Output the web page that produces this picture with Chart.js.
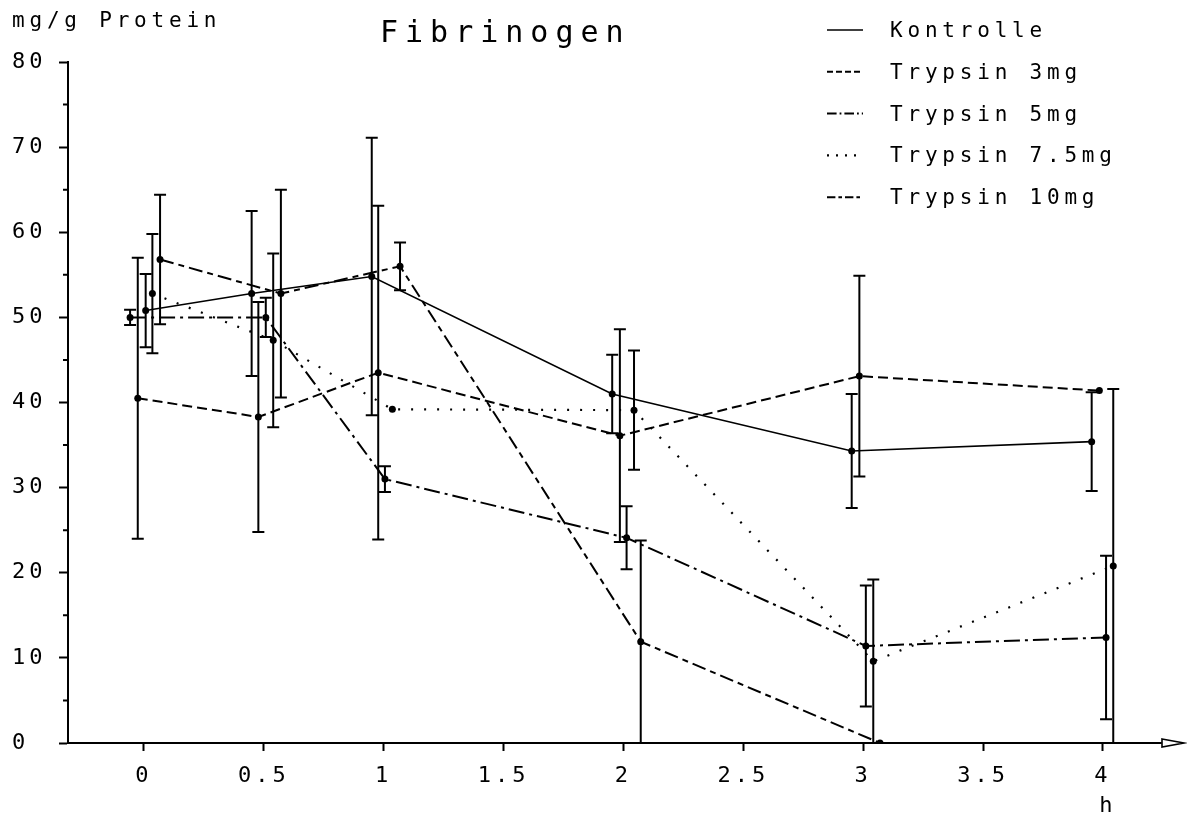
<!DOCTYPE html>
<html>
<head>
<meta charset="utf-8">
<title>Fibrinogen</title>
<script src="https://cdn.jsdelivr.net/npm/chart.js@4.4.1/dist/chart.umd.min.js"></script>
<style>
  html, body { margin: 0; padding: 0; background: #fff; }
  canvas { display: block; }
</style>
</head>
<body>
<canvas id="fibChart" width="1187" height="818"></canvas>
<script>
const hourTicks = [0, 0.5, 1, 1.5, 2, 2.5, 3, 3.5, 4];
const valueTicks = [0, 10, 20, 30, 40, 50, 60, 70, 80];
const minorTicks = [5, 15, 25, 35, 45, 55, 65, 75];
const seriesNames = ["Kontrolle", "Trypsin 3mg", "Trypsin 5mg", "Trypsin 7.5mg", "Trypsin 10mg"];

// sampling times (h) are nudged per group so the bars stay apart
const kontrolleX = [0.007, 0.449, 0.950, 1.953, 2.952, 3.953];
const kontrolleY = [50.8, 52.8, 54.8, 41.0, 34.3, 35.4];
const kontrolleSd = [4.3, 9.7, 16.3, 4.6, 6.7, 5.8];

const tryp3X = [-0.026, 0.477, 0.977, 1.985, 2.984, 3.985];
const tryp3Y = [40.5, 38.3, 43.5, 36.1, 43.1, 41.4];
const tryp3Sd = [16.5, 13.5, 19.6, 12.5, 11.8, 0];

const tryp5X = [-0.058, 0.508, 1.005, 2.013, 3.011, 4.013];
const tryp5Y = [50.0, 50.0, 31.0, 24.1, 11.4, 12.4];
const tryp5Sd = [0.9, 2.3, 1.5, 3.7, 7.1, 9.6];

const tryp75X = [0.035, 0.539, 1.036, 2.044, 3.042, 4.043];
const tryp75Y = [52.8, 47.3, 39.2, 39.1, 9.6, 20.8];
const tryp75Sd = [7.0, 10.2, 0, 7.0, 9.6, 20.8];

const tryp10X = [0.067, 0.571, 1.068, 2.072, 3.070];
const tryp10Y = [56.8, 52.8, 56.0, 11.9, 0];
const tryp10Sd = [7.6, 12.2, 2.8, 11.9, 0];

const FONT = "'DejaVu Sans Mono', 'Liberation Mono', monospace";

const lineStyles = [
  { dash: [], width: 1.6 },
  { dash: [10, 5], width: 2 },
  { dash: [16, 5, 3, 5], width: 2 },
  { dash: [2, 11], width: 2.2 },
  { dash: [14, 5, 6, 5], width: 2 }
];

function series(i, xs, ys, sd) {
  return {
    label: seriesNames[i],
    data: xs.map((x, k) => ({ x: x, y: ys[k] })),
    sd: sd,
    showLine: true,
    borderColor: "#000",
    borderWidth: lineStyles[i].width,
    borderDash: lineStyles[i].dash,
    pointRadius: 3.5,
    pointBackgroundColor: "#000",
    pointBorderWidth: 0,
    tension: 0
  };
}

function spacedText(ctx, text, x, y, size, spacing, align) {
  ctx.save();
  ctx.font = size + "px " + FONT;
  ctx.letterSpacing = spacing + "px";
  ctx.fillStyle = "#000";
  ctx.textAlign = align || "left";
  ctx.textBaseline = "alphabetic";
  ctx.fillText(text, x, y);
  ctx.restore();
}

// wide plotter-like lettering for the axis labels too
const letterSpacing = {
  id: "letterSpacing",
  beforeDraw(chart) {
    chart.ctx.letterSpacing = "4px";
  }
};

const errorBars = {
  id: "errorBars",
  afterDatasetsDraw(chart) {
    const { ctx } = chart;
    const xs = chart.scales.x;
    const ys = chart.scales.y;
    ctx.save();
    ctx.strokeStyle = "#000";
    ctx.lineWidth = 2;
    ctx.setLineDash([]);
    chart.data.datasets.forEach(ds => {
      ds.data.forEach((p, k) => {
        const sd = ds.sd[k];
        if (!sd) return;
        const px = xs.getPixelForValue(p.x);
        const top = ys.getPixelForValue(p.y + sd);
        const bot = ys.getPixelForValue(Math.max(p.y - sd, 0));
        ctx.beginPath();
        ctx.moveTo(px, top);
        ctx.lineTo(px, bot);
        ctx.moveTo(px - 6, top);
        ctx.lineTo(px + 6, top);
        if (p.y - sd > 0) {
          ctx.moveTo(px - 6, bot);
          ctx.lineTo(px + 6, bot);
        }
        ctx.stroke();
      });
    });
    ctx.restore();
  }
};

const axisExtras = {
  id: "axisExtras",
  afterDraw(chart) {
    const { ctx, chartArea } = chart;
    const ys = chart.scales.y;
    ctx.save();
    ctx.letterSpacing = "0px";
    ctx.strokeStyle = "#000";
    ctx.lineWidth = 2;
    ctx.setLineDash([]);

    // short ticks between the labelled ones
    ctx.beginPath();
    minorTicks.forEach(v => {
      const py = ys.getPixelForValue(v);
      ctx.moveTo(chartArea.left - 5, py);
      ctx.lineTo(chartArea.left, py);
    });
    ctx.stroke();

    // open arrow at the end of the time axis
    const ay = chartArea.bottom;
    ctx.lineWidth = 1.6;
    ctx.beginPath();
    ctx.moveTo(chartArea.right, ay);
    ctx.lineTo(chartArea.right + 2, ay);
    ctx.moveTo(chartArea.right + 2, ay - 4);
    ctx.lineTo(chartArea.right + 24, ay);
    ctx.lineTo(chartArea.right + 2, ay + 4);
    ctx.closePath();
    ctx.stroke();
    ctx.restore();

    spacedText(ctx, "Fibrinogen", 380, 42, 30, 7);
    spacedText(ctx, "mg/g Protein", 12, 27, 21, 4.8);
    spacedText(ctx, "h", chart.scales.x.getPixelForValue(4) + 3, 812, 22, 0, "center");

    // legend with line samples
    chart.data.datasets.forEach((ds, i) => {
      const base = 37 + 41.8 * i;
      const mid = base - 7;
      ctx.save();
      ctx.strokeStyle = "#000";
      ctx.lineWidth = lineStyles[i].width;
      ctx.setLineDash(i === 3 ? [2, 7] : lineStyles[i].dash.map(d => d * 0.6));
      ctx.beginPath();
      ctx.moveTo(827, mid);
      ctx.lineTo(863, mid);
      ctx.stroke();
      ctx.restore();
      spacedText(ctx, ds.label, 890, base, 21, 4.8);
    });
  }
};

const ctx = document.getElementById("fibChart").getContext("2d");

new Chart(ctx, {
  type: "scatter",
  data: {
    datasets: [
      series(0, kontrolleX, kontrolleY, kontrolleSd),
      series(1, tryp3X, tryp3Y, tryp3Sd),
      series(2, tryp5X, tryp5Y, tryp5Sd),
      series(3, tryp75X, tryp75Y, tryp75Sd),
      series(4, tryp10X, tryp10Y, tryp10Sd)
    ]
  },
  options: {
    responsive: false,
    animation: false,
    devicePixelRatio: 1,
    layout: { padding: { left: 12, top: 62, right: 27, bottom: 0 } },
    plugins: {
      legend: { display: false },
      tooltip: { enabled: false }
    },
    scales: {
      x: {
        type: "linear",
        min: -0.317,
        max: 4.238,
        afterBuildTicks: s => { s.ticks = hourTicks.map(v => ({ value: v })); },
        afterFit: s => { s.height = 75; },
        grid: { drawOnChartArea: false, drawTicks: true, tickLength: 8, tickWidth: 2, tickColor: "#000" },
        border: { display: true, color: "#000", width: 2 },
        ticks: {
          color: "#000",
          font: { family: FONT, size: 22 },
          padding: 12,
          maxRotation: 0,
          autoSkip: false,
          callback: v => String(v)
        }
      },
      y: {
        min: 0,
        max: 80,
        afterBuildTicks: s => { s.ticks = valueTicks.map(v => ({ value: v })); },
        afterFit: s => { s.width = 56; },
        grid: { drawOnChartArea: false, drawTicks: true, tickLength: 9, tickWidth: 2, tickColor: "#000" },
        border: { display: true, color: "#000", width: 2 },
        ticks: {
          color: "#000",
          font: { family: FONT, size: 22 },
          crossAlign: "far",
          padding: 4,
          callback: v => String(v)
        }
      }
    }
  },
  plugins: [letterSpacing, errorBars, axisExtras]
});
</script>
</body>
</html>
